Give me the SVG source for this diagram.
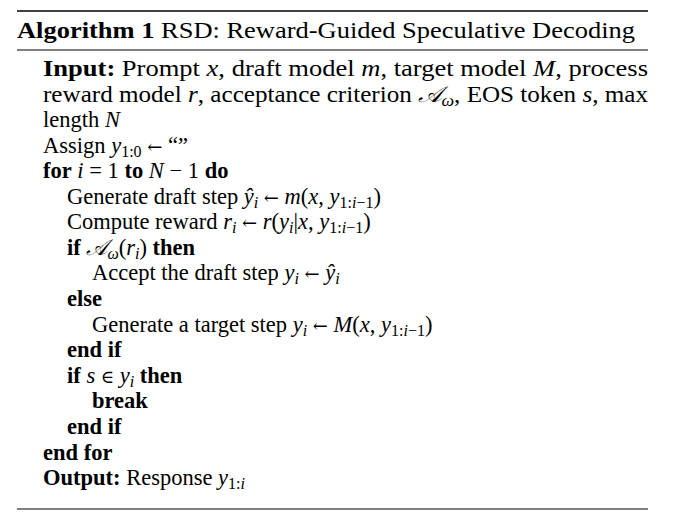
<svg xmlns="http://www.w3.org/2000/svg" width="676" height="525" viewBox="0 0 676 525">
<style>
text{font-family:"Liberation Serif","Times New Roman",serif;font-size:22.5px;fill:#000}
.b{font-weight:bold}.i{font-style:italic}.s{font-size:16px}
.a{font-family:"DejaVu Serif",serif;font-size:18px}
line{stroke:#000}
</style>
<rect width="676" height="525" fill="#fff"/>
<line x1="17" y1="11" x2="648" y2="11" stroke-width="1.6"/>
<line x1="17" y1="50" x2="648" y2="50" stroke-width="1"/>
<line x1="17" y1="509" x2="648" y2="509" stroke-width="1"/>
<text x="17" y="38" textLength="618" lengthAdjust="spacingAndGlyphs"><tspan class="b">Algorithm 1</tspan> RSD: Reward-Guided Speculative Decoding</text>
<text x="43" y="76" textLength="605" lengthAdjust="spacingAndGlyphs"><tspan class="b">Input:</tspan> Prompt <tspan class="i">x</tspan>, draft model <tspan class="i">m</tspan>, target model <tspan class="i">M</tspan>, process</text>
<text x="43" y="102" textLength="605" lengthAdjust="spacingAndGlyphs">reward model <tspan class="i">r</tspan>, acceptance criterion <tspan class="i">𝒜</tspan><tspan class="i s" dy="4">ω</tspan><tspan dy="-4">, EOS token </tspan><tspan class="i">s</tspan>, max</text>
<text x="43" y="127">length <tspan class="i">N</tspan></text>
<text x="43" y="153">Assign <tspan class="i">y</tspan><tspan class="s" dy="4">1:0</tspan><tspan dy="-4"> </tspan><tspan class="a">←</tspan> “”</text>
<text x="43" y="178"><tspan class="b">for</tspan> <tspan class="i">i</tspan> = 1 <tspan class="b">to</tspan> <tspan class="i">N</tspan> − 1 <tspan class="b">do</tspan></text>
<text x="67" y="204">Generate draft step <tspan class="i">ŷ</tspan><tspan class="i s" dy="4">i</tspan><tspan dy="-4"> </tspan><tspan class="a">←</tspan> <tspan class="i">m</tspan>(<tspan class="i">x</tspan>, <tspan class="i">y</tspan><tspan class="s" dy="4">1:<tspan class="i">i</tspan>−1</tspan><tspan dy="-4">)</tspan></text>
<text x="67" y="229">Compute reward <tspan class="i">r</tspan><tspan class="i s" dy="4">i</tspan><tspan dy="-4"> </tspan><tspan class="a">←</tspan> <tspan class="i">r</tspan>(<tspan class="i">y</tspan><tspan class="i s" dy="4">i</tspan><tspan dy="-4">|</tspan><tspan class="i">x</tspan>, <tspan class="i">y</tspan><tspan class="s" dy="4">1:<tspan class="i">i</tspan>−1</tspan><tspan dy="-4">)</tspan></text>
<text x="67" y="255"><tspan class="b">if</tspan> <tspan class="i">𝒜</tspan><tspan class="i s" dy="4">ω</tspan><tspan dy="-4">(</tspan><tspan class="i">r</tspan><tspan class="i s" dy="4">i</tspan><tspan dy="-4">) </tspan><tspan class="b">then</tspan></text>
<text x="92" y="280">Accept the draft step <tspan class="i">y</tspan><tspan class="i s" dy="4">i</tspan><tspan dy="-4"> </tspan><tspan class="a">←</tspan> <tspan class="i">ŷ</tspan><tspan class="i s" dy="4">i</tspan></text>
<text x="67" y="306" class="b">else</text>
<text x="92" y="332">Generate a target step <tspan class="i">y</tspan><tspan class="i s" dy="4">i</tspan><tspan dy="-4"> </tspan><tspan class="a">←</tspan> <tspan class="i">M</tspan>(<tspan class="i">x</tspan>, <tspan class="i">y</tspan><tspan class="s" dy="4">1:<tspan class="i">i</tspan>−1</tspan><tspan dy="-4">)</tspan></text>
<text x="67" y="357" class="b">end if</text>
<text x="67" y="383"><tspan class="b">if</tspan> <tspan class="i">s</tspan> <tspan class="a">∈</tspan> <tspan class="i">y</tspan><tspan class="i s" dy="4">i</tspan><tspan dy="-4"> </tspan><tspan class="b">then</tspan></text>
<text x="92" y="408" class="b">break</text>
<text x="67" y="434" class="b">end if</text>
<text x="43" y="460" class="b">end for</text>
<text x="43" y="485"><tspan class="b">Output:</tspan> Response <tspan class="i">y</tspan><tspan class="s" dy="4">1:<tspan class="i">i</tspan></tspan></text>
</svg>
